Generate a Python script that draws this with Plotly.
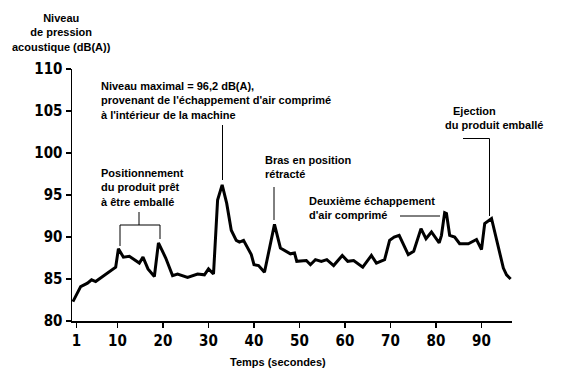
import plotly.graph_objects as go

# Data
temps = [0.2, 1.9, 3.4, 4.3, 5.2, 6.3, 7.4, 8.5, 9.6, 10.2,
         11.3, 12.6, 13.8, 14.8, 15.6, 16.7, 18.1, 19.0, 20.6, 22.1,
         23.2, 25.4, 27.6, 29.1, 30.0, 31.1, 32.0, 33.0, 34.0, 35.0,
         36.1, 36.8, 37.7, 38.6, 39.4, 40.0, 41.0, 42.3, 43.4, 44.5,
         45.8, 47.1, 48.0, 48.9, 49.4, 51.5, 52.4, 53.5, 54.8, 56.0,
         57.5, 59.4, 60.6, 61.9, 62.8, 63.9, 65.8, 66.9, 68.7, 69.8,
         70.8, 71.9, 73.9, 75.1, 76.7, 77.8, 79.0, 80.7, 81.2, 81.9,
         82.3, 83.0, 84.1, 85.2, 87.1, 88.9, 90.0, 90.7, 92.2, 93.3,
         94.8, 95.5, 96.4]
niveau = [82.3, 84.1, 84.5, 84.9, 84.7, 85.1, 85.5, 86.0, 86.4, 88.6,
          87.6, 87.7, 87.3, 86.9, 87.6, 86.2, 85.3, 89.3, 87.5, 85.4,
          85.6, 85.2, 85.6, 85.5, 86.2, 85.6, 94.4, 96.2, 94.0, 90.8,
          89.6, 89.4, 89.6, 88.7, 87.9, 86.7, 86.6, 85.8, 88.5, 91.5,
          88.7, 88.3, 88.0, 88.1, 87.1, 87.2, 86.7, 87.3, 87.1, 87.3,
          86.6, 87.8, 87.1, 87.2, 86.8, 86.4, 87.8, 86.9, 87.3, 89.6,
          90.0, 90.2, 87.9, 88.3, 91.0, 89.8, 90.6, 89.3, 90.2, 92.9,
          92.8, 90.2, 90.0, 89.2, 89.2, 89.7, 88.5, 91.6, 92.2, 89.6,
          86.3, 85.5, 85.0]

x_ticks = [1, 10, 20, 30, 40, 50, 60, 70, 80, 90]
x_tick_labels = ["1", "10", "20", "30", "40", "50", "60", "70", "80", "90"]
y_ticks = [80, 85, 90, 95, 100, 105, 110]

W, H = 579, 380
L, R, T, B = 72, 67, 69, 59
PW, PH = W - L - R, H - T - B


def px(xp):
    return (xp - L) / PW


def py(yp):
    return (H - B - yp) / PH


TXT = dict(family="Liberation Sans, Arial, sans-serif", size=11, color="black", weight="bold")
TICK = dict(family="Liberation Sans Narrow, DejaVu Sans Condensed, Arial Narrow, sans-serif",
            size=15, color="black", weight="bold")

fig = go.Figure()
fig.add_trace(go.Scatter(x=temps, y=niveau, mode="lines",
                         line=dict(color="black", width=3), hoverinfo="skip",
                         showlegend=False))

annots = [
    ("Niveau<br>de pression<br>acoustique (dB(A))", 61, 32, "center"),
    ("Niveau maximal = 96,2 dB(A),<br>provenant de l'échappement d'air comprimé<br>à l'intérieur de la machine", 99, 100, "left"),
    ("Positionnement<br>du produit prêt<br>à être emballé", 99, 187.5, "left"),
    ("Bras en position<br>rétracté", 263, 166.7, "left"),
    ("Deuxième échappement<br>d'air comprimé", 307, 208.3, "left"),
    ("Ejection", 451, 111, "left"),
    ("du produit emballé", 443, 124.5, "left"),
    ("Temps (secondes)", 278, 361.5, "center"),
]
for text, xp, yp, anchor in annots:
    fig.add_annotation(text=text, x=px(xp), y=py(yp), xref="paper", yref="paper",
                       xanchor=anchor, yanchor="middle", align=anchor,
                       showarrow=False, font=TXT)

segments = [
    (222.5, 125, 222.5, 180),      # niveau maximal
    (139, 212, 139, 225),          # bracket stem
    (120, 225, 160, 225),          # bracket top
    (120, 225, 120, 246),          # bracket left
    (160, 225, 160, 239),          # bracket right
    (274, 187, 274, 220),          # bras
    (400, 216, 440, 216),          # deuxieme
    (463, 138.5, 489.5, 138.5),    # ejection horizontal
    (489.5, 138.5, 489.5, 216),    # ejection vertical
]
for x0, y0, x1, y1 in segments:
    fig.add_shape(type="line", xref="paper", yref="paper",
                  x0=px(x0), y0=py(y0), x1=px(x1), y1=py(y1),
                  line=dict(color="black", width=1))

fig.update_layout(
    width=W, height=H, autosize=False,
    margin=dict(l=L, r=R, t=T, b=B, pad=0),
    paper_bgcolor="white", plot_bgcolor="white",
    showlegend=False,
    xaxis=dict(range=[0, 96.7], tickvals=x_ticks, ticktext=x_tick_labels,
               showline=True, linecolor="black", linewidth=1.5,
               ticks="outside", ticklen=5, tickwidth=1.5, tickcolor="black",
               showgrid=False, zeroline=False, tickfont=TICK),
    yaxis=dict(range=[80, 110], tickvals=y_ticks,
               showline=True, linecolor="black", linewidth=1.5,
               ticks="outside", ticklen=5, tickwidth=1.5, tickcolor="black",
               showgrid=False, zeroline=False, tickfont=TICK),
)

fig.write_html("out.html",
               config={"displayModeBar": False, "staticPlot": True},
               post_script="document.body.style.margin='0';document.body.style.padding='0';")
